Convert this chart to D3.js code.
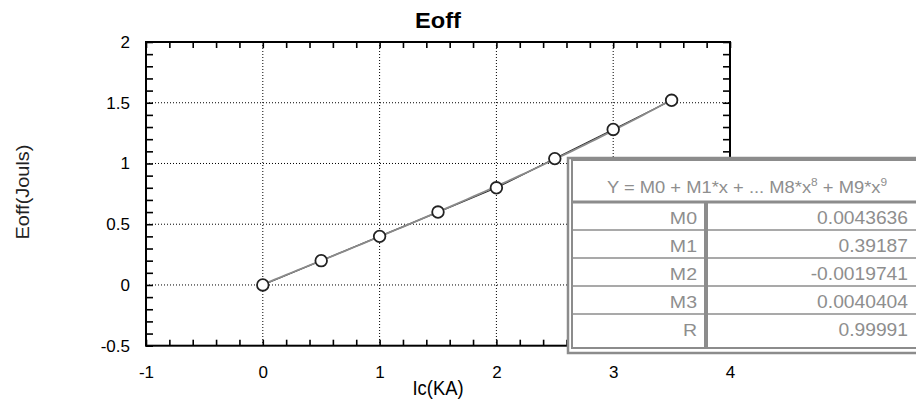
<!DOCTYPE html>
<html>
<head>
<meta charset="utf-8">
<script src="https://cdn.jsdelivr.net/npm/d3@7/dist/d3.min.js"></script>
<style>
  html, body { margin: 0; padding: 0; background: #fff; }
  svg { display: block; font-family: "Liberation Sans", Arial, sans-serif; }
</style>
</head>
<body>
<svg id="chart" width="916" height="402"></svg>
<script>
// Measured switching energy vs collector current
const currentKA = [0, 0.5, 1, 1.5, 2, 2.5, 3, 3.5];
const eoffJ = [0, 0.2, 0.4, 0.6, 0.8, 1.04, 1.28, 1.52];

// Polynomial fit results
const coefNames = ["M0", "M1", "M2", "M3"];
const coefValues = [0.0043636, 0.39187, -0.0019741, 0.0040404];
const coefLabels = ["0.0043636", "0.39187", "-0.0019741", "0.0040404"];
const fitR = "0.99991";

// Axis ticks
const xTicks = [-1, 0, 1, 2, 3, 4];
const yTicks = [-0.5, 0, 0.5, 1, 1.5, 2];
const xTickLabels = ["-1", "0", "1", "2", "3", "4"];
const yTickLabels = ["-0.5", "0", "0.5", "1", "1.5", "2"];

const svg = d3.select("#chart");
const L = 146, R = 730, T = 42, B = 345.7;

const x = d3.scaleLinear().domain([-1, 4]).range([L, R]);
const y = d3.scaleLinear().domain([-0.5, 2]).range([B, T]);

// dotted grid at major ticks
const grid = svg.append("g");
grid.selectAll("line.gx").data(xTicks.slice(1, -1)).join("line")
  .attr("x1", d => x(d)).attr("x2", d => x(d)).attr("y1", T).attr("y2", B)
  .attr("stroke", "#000").attr("stroke-width", 1).attr("stroke-dasharray", "1,2");
grid.selectAll("line.gy").data(yTicks.slice(1, -1)).join("line")
  .attr("x1", L).attr("x2", R).attr("y1", d => y(d)).attr("y2", d => y(d))
  .attr("stroke", "#000").attr("stroke-width", 1).attr("stroke-dasharray", "1,2");

// minor ticks pointing inward on all four sides
const xMinor = d3.range(0, 26).map(i => -1 + i * 0.2);
const yMinor = d3.range(0, 26).map(i => -0.5 + i * 0.1);
function styleTicks(g) {
  g.select(".domain").remove();
  g.selectAll(".tick line").attr("stroke", "#000").attr("stroke-width", 1.6);
}
svg.append("g").attr("transform", `translate(0,${B})`)
  .call(d3.axisBottom(x).tickValues(xMinor).tickSize(-6).tickFormat(""))
  .call(styleTicks);
svg.append("g").attr("transform", `translate(0,${T})`)
  .call(d3.axisTop(x).tickValues(xMinor).tickSize(-6).tickFormat(""))
  .call(styleTicks);
svg.append("g").attr("transform", `translate(${L},0)`)
  .call(d3.axisLeft(y).tickValues(yMinor).tickSize(-7).tickFormat(""))
  .call(styleTicks);
svg.append("g").attr("transform", `translate(${R},0)`)
  .call(d3.axisRight(y).tickValues(yMinor).tickSize(-7).tickFormat(""))
  .call(styleTicks);

// frame
svg.append("rect").attr("x", L).attr("y", T).attr("width", R - L).attr("height", B - T)
  .attr("fill", "none").attr("stroke", "#000").attr("stroke-width", 2);

// tick labels
const xl = svg.append("g").attr("transform", `translate(0,${B})`)
  .call(d3.axisBottom(x).tickValues(xTicks).tickSize(0).tickPadding(20)
    .tickFormat((d, i) => xTickLabels[i]));
xl.select(".domain").remove();
xl.selectAll("text").attr("font-size", 17).attr("fill", "#000")
  .attr("font-family", "Liberation Sans, Arial, sans-serif");

const yl = svg.append("g").attr("transform", `translate(${L},0)`)
  .call(d3.axisLeft(y).tickValues(yTicks).tickSize(0).tickPadding(16)
    .tickFormat((d, i) => yTickLabels[i]));
yl.select(".domain").remove();
yl.selectAll("text").attr("font-size", 17).attr("fill", "#000")
  .attr("font-family", "Liberation Sans, Arial, sans-serif");

// titles
svg.append("text").attr("x", 438).attr("y", 28).attr("text-anchor", "middle")
  .attr("font-size", 22).attr("font-weight", "bold")
  .attr("textLength", 46).attr("lengthAdjust", "spacingAndGlyphs").text("Eoff");
svg.append("text").attr("x", 438).attr("y", 395).attr("text-anchor", "middle")
  .attr("font-size", 20).attr("textLength", 51).attr("lengthAdjust", "spacingAndGlyphs")
  .text("Ic(KA)");
svg.append("text").attr("transform", "translate(29,192) rotate(-90)")
  .attr("text-anchor", "middle").attr("font-size", 19).attr("fill", "#222")
  .attr("textLength", 95).attr("lengthAdjust", "spacingAndGlyphs")
  .text("Eoff(Jouls)");

// data polyline
svg.append("path").datum(currentKA.map((c, i) => [c, eoffJ[i]]))
  .attr("d", d3.line().x(d => x(d[0])).y(d => y(d[1])))
  .attr("fill", "none").attr("stroke", "#222").attr("stroke-width", 1.2);

// fitted cubic from the reported coefficients
const poly = v => coefValues.reduce((s, c, k) => s + c * Math.pow(v, k), 0);
const fitX = d3.range(0, 71).map(i => i * 0.05);
svg.append("path").datum(fitX)
  .attr("d", d3.line().x(d => x(d)).y(d => y(poly(d))))
  .attr("fill", "none").attr("stroke", "#8a8a8a").attr("stroke-width", 1.8);

// markers
svg.selectAll("circle.pt").data(currentKA).join("circle")
  .attr("cx", d => x(d)).attr("cy", (d, i) => y(eoffJ[i])).attr("r", 5.8)
  .attr("fill", "#fff").attr("stroke", "#222").attr("stroke-width", 1.8);

// coefficient table
const tb = svg.append("g");
const gray = "#8c8c8c", txt = "#8e8e8e";
const tx0 = 567, tx1 = 940, ty0 = 157, ty1 = 354;
tb.append("rect").attr("x", tx0).attr("y", ty0).attr("width", tx1 - tx0).attr("height", ty1 - ty0)
  .attr("fill", "#fff").attr("stroke", "none");
// double outer border
tb.append("rect").attr("x", tx0 + 1).attr("y", ty0 + 1).attr("width", tx1 - tx0).attr("height", ty1 - ty0 - 2)
  .attr("fill", "none").attr("stroke", gray).attr("stroke-width", 2.5);
tb.append("rect").attr("x", tx0 + 5).attr("y", ty0 + 3).attr("width", tx1 - tx0).attr("height", ty1 - ty0 - 9)
  .attr("fill", "none").attr("stroke", gray).attr("stroke-width", 2);

const headerBottom = 202, rowH = 28;
const rows = coefNames.map((n, i) => ({ name: n, value: coefLabels[i] }))
  .concat([{ name: "R", value: fitR }]);
const colX = 706;
tb.append("line").attr("x1", tx0 + 5).attr("x2", tx1).attr("y1", headerBottom).attr("y2", headerBottom)
  .attr("stroke", gray).attr("stroke-width", 3);
tb.selectAll("line.rowdiv").data(rows.slice(0, -1)).join("line")
  .attr("x1", tx0 + 5).attr("x2", tx1)
  .attr("y1", (d, i) => headerBottom + rowH * (i + 1)).attr("y2", (d, i) => headerBottom + rowH * (i + 1))
  .attr("stroke", gray).attr("stroke-width", 1.5);
tb.append("line").attr("x1", colX).attr("x2", colX).attr("y1", headerBottom).attr("y2", ty1 - 6)
  .attr("stroke", gray).attr("stroke-width", 4);

// header: text stretched horizontally like the table's wide face
const hdr = tb.append("text").attr("transform", "translate(747,193) scale(1.08,1)")
  .attr("text-anchor", "middle").attr("font-size", 17).attr("fill", txt);
hdr.append("tspan").text("Y = M0 + M1*x + ... M8*x");
hdr.append("tspan").attr("dy", -7).attr("font-size", 11).text("8");
hdr.append("tspan").attr("dy", 7).text(" + M9*x");
hdr.append("tspan").attr("dy", -7).attr("font-size", 11).text("9");

tb.selectAll("text.nm").data(rows).join("text")
  .attr("transform", (d, i) => `translate(697,${headerBottom + 22 + rowH * i}) scale(1.15,1)`)
  .attr("text-anchor", "end").attr("font-size", 17).attr("fill", txt).text(d => d.name);
tb.selectAll("text.val").data(rows).join("text")
  .attr("transform", (d, i) => `translate(908,${headerBottom + 22 + rowH * i}) scale(1.1,1)`)
  .attr("text-anchor", "end").attr("font-size", 17.5).attr("fill", txt)
  .text(d => d.value);
</script>
</body>
</html>
